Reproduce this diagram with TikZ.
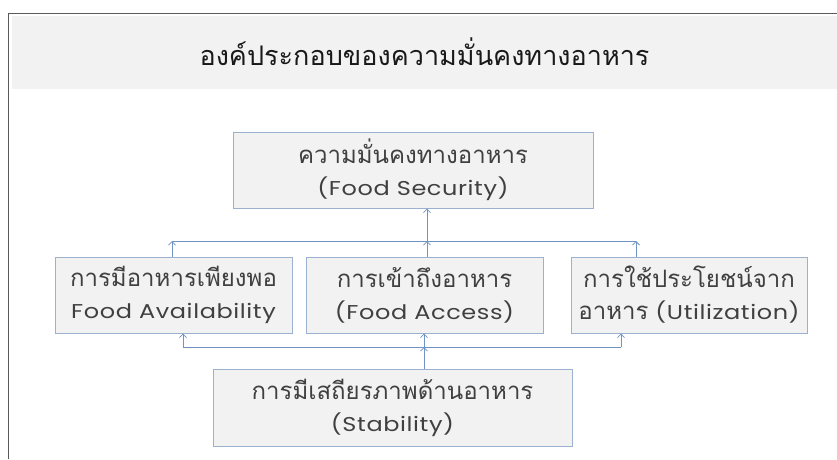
\documentclass[tikz,border=0pt]{standalone}
\usepackage{fontspec}
\usepackage{xcolor}
\usepackage{tikz}
\usetikzlibrary{arrows.meta}
\setmainfont{Poppins}[LetterSpace=3, FakeStretch=1.2]
\newfontfamily\thaifont[Script=Thai]{Loma}
\newcommand{\thai}[1]{{\thaifont\fontsize{24}{32}\selectfont #1}}
\definecolor{boxline}{HTML}{9BB1CF}
\definecolor{boxfill}{HTML}{F2F2F2}
\definecolor{linkcol}{HTML}{7093C4}
\definecolor{textcol}{HTML}{404040}
\definecolor{framecol}{HTML}{5A5A5A}

\begin{document}
\begin{tikzpicture}[x=1pt,y=-1pt,
    part/.style={draw=boxline, line width=1pt, fill=boxfill, text=textcol, align=center,
        font=\fontsize{20}{32}\selectfont, inner sep=0pt},
    link/.style={draw=linkcol, line width=1pt},
    flow/.style={link, -{Straight Barb[length=3.5pt,width=7pt,line width=0.8pt]}}]
\useasboundingbox (0,0) rectangle (837,459);
\draw[framecol, line width=1.8pt] (8.5,459) -- (8.5,13.5) -- (837,13.5);
\fill[boxfill] (12,16) rectangle (837,89);
\node[text=black!90, font=\thaifont\fontsize{27}{30}\selectfont] (title) at (424.5,52) {องค์ประกอบของความมั่นคงทางอาหาร};
\node[part, minimum width=360pt, minimum height=76pt] (security) at (413,170) {\thai{ความมั่นคงทางอาหาร}\\(Food Security)};
\node[part, minimum width=237pt, minimum height=76pt] (avail) at (173.5,295) {\thai{การมีอาหารเพียงพอ}\\Food Availability};
\node[part, minimum width=237pt, minimum height=76pt] (access) at (424.5,295) {\thai{การเข้าถึงอาหาร}\\(Food Access)};
\node[part, minimum width=236pt, minimum height=76pt] (util) at (689,295) {\thai{การใช้ประโยชน์จาก}\\\thai{อาหาร} (Utilization)};
\node[part, minimum width=359pt, minimum height=77pt] (stab) at (392.5,407.5) {\thai{การมีเสถียรภาพด้านอาหาร}\\(Stability)};
\coordinate (topL) at (172,241);
\coordinate (topM) at (427,241);
\coordinate (topR) at (636,241);
\coordinate (lowL) at (183,347);
\coordinate (lowM) at (424,347);
\coordinate (lowR) at (621,347);
\draw[link] (topL) -- (topR);
\draw[flow] (avail.north -| topL) -- (topL);
\draw[flow] (access.north -| topM) -- (topM);
\draw[flow] (util.north -| topR) -- (topR);
\draw[flow] (topM) -- (security.south -| topM);
\draw[link] (lowL) -- (lowR);
\draw[flow] (lowL) -- (avail.south -| lowL);
\draw[flow] (lowM) -- (access.south -| lowM);
\draw[flow] (lowR) -- (util.south -| lowR);
\draw[flow] (stab.north -| lowM) -- (lowM);
\end{tikzpicture}
\end{document}
